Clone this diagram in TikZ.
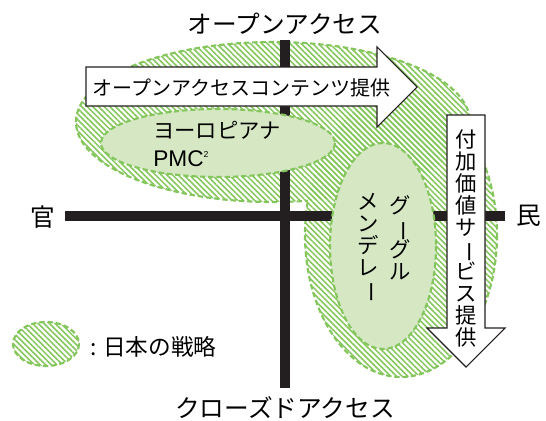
\documentclass[tikz,border=0pt]{standalone}
\usepackage{fontspec}
\setmainfont{Noto Sans CJK JP}
\newfontfamily\latfont{Liberation Sans}
\usepackage{graphicx}
\usetikzlibrary{patterns.meta}
\definecolor{hatchgreen}{RGB}{132,198,92}
\definecolor{lightgreen}{RGB}{213,232,195}
\definecolor{axisblack}{RGB}{35,31,32}
\setlength{\lineskiplimit}{-30pt}
\newcommand{\vchou}{\rotatebox[origin=c]{-90}{ー}}
\tikzset{
  hatch/.style={pattern={Lines[angle=-45,distance=3pt,line width=1.15pt]},pattern color=hatchgreen},
  dashgreen/.style={draw=hatchgreen,line width=1.6pt,dash pattern=on 4pt off 2.2pt},
  inner/.style={fill=lightgreen,dashgreen},
  axis/.style={draw=axisblack,line width=7.5pt},
  arrowbox/.style={fill=white,draw=axisblack,line width=0.8pt,line join=miter},
  lbl/.style={inner sep=0pt,font=\fontsize{18.5}{20}\selectfont},
  txt/.style={inner sep=0pt,font=\fontsize{16}{16.5}\selectfont},
  vtxt/.style={inner sep=0pt,align=center,font=\fontsize{16}{16.5}\selectfont},
}
\begin{document}
\begin{tikzpicture}[x=0.75pt,y=-0.75pt]
\useasboundingbox (0,0) rectangle (546,421);
% big hatched strategy areas (union)
\fill[hatch] (273,122) ellipse [x radius=197,y radius=80];
\fill[hatch] (401,235) ellipse [x radius=96,y radius=142];
\begin{scope}[even odd rule]
  \clip (-10,-10) rectangle (560,430) (401,235) ellipse [x radius=96,y radius=142];
  \draw[dashgreen] (273,122) ellipse [x radius=197,y radius=80];
\end{scope}
\begin{scope}[even odd rule]
  \clip (-10,-10) rectangle (560,430) (273,122) ellipse [x radius=197,y radius=80];
  \draw[dashgreen] (401,235) ellipse [x radius=96,y radius=142];
\end{scope}
% axes labels
\node[lbl] (open) at (285,24) {オープンアクセス};
\node[lbl] (closed) at (285,408) {クローズドアクセス};
\node[lbl] (gov) at (43,217) {官};
\node[lbl] (priv) at (529,216) {民};
% axes
\coordinate (vtop) at (285,40);
\coordinate (vbot) at (285,388);
\coordinate (hleft) at (65,216);
\coordinate (hright) at (505,216);
\draw[axis] (vtop) -- (vbot);
\draw[axis] (hleft) -- (hright);
% inner ellipses
\draw[inner] (218,143) ellipse [x radius=117,y radius=34];
\draw[inner] (383,246) ellipse [x radius=53,y radius=103];
% arrows
\draw[arrowbox] (86,67) -- (377,67) -- (377,47) -- (417,87) -- (377,127) -- (377,106) -- (86,106) -- cycle;
\draw[arrowbox] (447,115) -- (485,115) -- (485,328) -- (505,328) -- (466,367) -- (427,328) -- (447,328) -- cycle;
% texts
\node[txt,anchor=west,font=\fontsize{15}{16}\selectfont] (oac) at (92,88) {オープンアクセスコンテンツ提供};
\node[vtxt] (vas) at (466,238) {付\\加\\価\\値\\サ\\\vchou\\ビ\\ス\\提\\供};
\node[txt,anchor=west,align=left,font=\fontsize{16}{21}\selectfont] (eu) at (153,144) {ヨーロピアナ\\{\latfont\fontsize{17}{18}\selectfont PMC\raisebox{6.5pt}{\fontsize{6.5}{7}\selectfont 2}}};
\node[vtxt] (google) at (400,238) {グ\\\vchou\\グ\\ル};
\node[vtxt] (mend) at (368,248) {メ\\ン\\デ\\レ\\\vchou};
% legend
\fill[hatch] (46,344) ellipse [x radius=33,y radius=22];
\draw[dashgreen] (46,344) ellipse [x radius=33,y radius=22];
\node[txt,anchor=west,font=\fontsize{17}{18}\selectfont] (legend) at (90,347) {: 日本の戦略};
\end{tikzpicture}
\end{document}
